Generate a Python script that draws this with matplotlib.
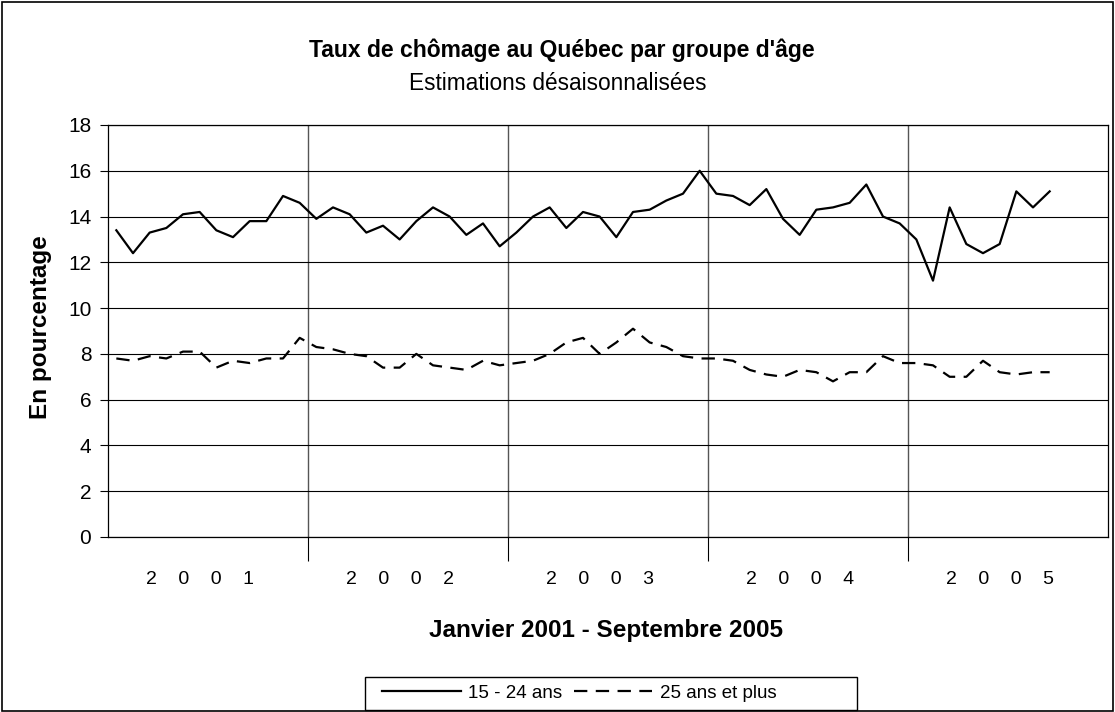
import matplotlib
matplotlib.use("Agg")
import matplotlib.pyplot as plt
from matplotlib.patches import Rectangle
import matplotlib.transforms as mtransforms

plt.rcParams['font.family'] = ['Liberation Sans', 'DejaVu Sans']

# Taux de chomage mensuels, janvier 2001 - septembre 2005
jeunes_15_24 = [
    13.4, 12.4, 13.3, 13.5, 14.1, 14.2, 13.4, 13.1, 13.8, 13.8, 14.9, 14.6,
    13.9, 14.4, 14.1, 13.3, 13.6, 13.0, 13.8, 14.4, 14.0, 13.2, 13.7, 12.7,
    13.3, 14.0, 14.4, 13.5, 14.2, 14.0, 13.1, 14.2, 14.3, 14.7, 15.0, 16.0,
    15.0, 14.9, 14.5, 15.2, 13.9, 13.2, 14.3, 14.4, 14.6, 15.4, 14.0, 13.7,
    13.0, 11.2, 14.4, 12.8, 12.4, 12.8, 15.1, 14.4, 15.1,
]
adultes_25_plus = [
    7.8, 7.7, 7.9, 7.8, 8.1, 8.1, 7.4, 7.7, 7.6, 7.8, 7.8, 8.7,
    8.3, 8.2, 8.0, 7.9, 7.4, 7.4, 8.0, 7.5, 7.4, 7.3, 7.7, 7.5,
    7.6, 7.7, 8.0, 8.5, 8.7, 8.0, 8.5, 9.1, 8.5, 8.3, 7.9, 7.8,
    7.8, 7.7, 7.3, 7.1, 7.0, 7.3, 7.2, 6.8, 7.2, 7.2, 7.9, 7.6,
    7.6, 7.5, 7.0, 7.0, 7.7, 7.2, 7.1, 7.2, 7.2,
]
annees = ['2001', '2002', '2003', '2004', '2005']
y_ticks = list(range(0, 19, 2))

mois = list(range(len(jeunes_15_24)))

fig = plt.figure(figsize=(11.15, 7.12), dpi=100)
ax = fig.add_axes([108 / 1115, 1 - 537 / 712, 1000 / 1115, 412 / 712])

ax.plot(mois, jeunes_15_24, color='black', lw=1.6, label='15 - 24 ans')
ax.plot(mois, adultes_25_plus, color='black', lw=1.6,
        linestyle=(0, (6, 3.8)), label='25 ans et plus')

ax.set_xlim(-0.5, 12 * len(annees) - 0.5)
ax.set_ylim(0, 18)
ax.set_yticks(y_ticks)
ax.tick_params(axis='y', labelsize=15, length=6, width=0.8, direction='out', pad=6)
ax.yaxis.grid(True, color='black', lw=0.8)

# separateurs d'annees (lignes verticales qui descendent sous l'axe)
bornes = [12 * i - 0.5 for i in range(1, len(annees))]
ax.set_xticks(bornes)
ax.set_xticklabels([])
ax.tick_params(axis='x', length=17, width=0.8, direction='out')
ax.xaxis.grid(True, color='#555555', lw=1.0)

trans = mtransforms.blended_transform_factory(ax.transData, ax.transAxes)
for i, a in enumerate(annees):
    ax.text(12 * i + 5.0, -0.102, '    '.join(a), transform=trans,
            ha='center', va='center', fontsize=14)

for s in ax.spines.values():
    s.set_color('black')
    s.set_linewidth(0.9)

ax.set_axisbelow(True)

fig.text(562 / 1115, 1 - 50 / 712, "Taux de chômage au Québec par groupe d'âge",
         ha='center', va='center', fontsize=16.5, fontweight='bold')
fig.text(558 / 1115, 1 - 84 / 712, 'Estimations désaisonnalisées',
         ha='center', va='center', fontsize=16.3)
fig.text(606 / 1115, 1 - 631 / 712, 'Janvier 2001 - Septembre 2005',
         ha='center', va='center', fontsize=17.5, fontweight='bold')
fig.text(41 / 1115, 1 - 327 / 712, 'En pourcentage', rotation=90,
         ha='center', va='center', fontsize=17.5, fontweight='bold')

# legende sans cadre + cadre dessine a part (plus large, comme l'original)
leg = fig.legend(loc='center left', bbox_to_anchor=(368 / 1115, 1 - 693 / 712),
                 ncol=2, fontsize=13.5, frameon=False,
                 handlelength=4.2, handletextpad=0.4,
                 columnspacing=0.6, borderpad=0.25)
fig.patches.append(Rectangle((365 / 1115, 1 - 710 / 712), 492 / 1115, 33 / 712,
                             transform=fig.transFigure, fill=False,
                             edgecolor='black', lw=1.0))

fig.patches.append(Rectangle((0.002, 0.002), 0.996, 0.995, transform=fig.transFigure,
                             fill=False, edgecolor='black', lw=1.2))

fig.savefig('out.png', dpi=100)
